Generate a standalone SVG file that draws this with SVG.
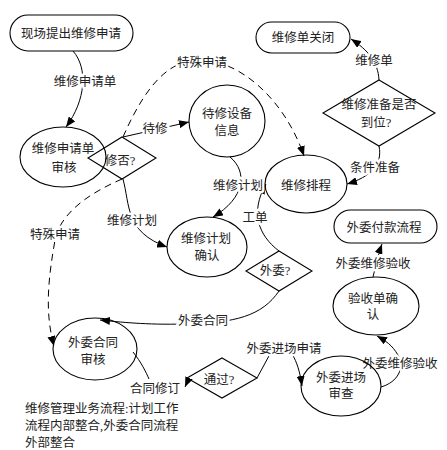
<svg xmlns="http://www.w3.org/2000/svg" width="447" height="450" viewBox="0 0 447 450">
<style>
.s{fill:none;stroke:#000;stroke-width:1.1}
.c{fill:none;stroke:#000;stroke-width:1}
.d{stroke-dasharray:7,5}
text{font-family:"Liberation Serif","Noto Sans CJK SC",serif;font-size:12.5px;fill:#222;text-anchor:middle}
.l{paint-order:stroke;stroke:#fff;stroke-width:5px;stroke-linejoin:round}
.t{text-anchor:start}
</style>
<defs>
<marker id="a" markerUnits="userSpaceOnUse" markerWidth="10" markerHeight="8" refX="10" refY="4" orient="auto" viewBox="0 0 10 8">
<path d="M0,0 L10,4 L0,8 z" fill="#000"/>
</marker>
</defs>
<rect width="447" height="450" fill="#fff"/>
<g id="connectors">
<path class="c" d="M73,51 C88,68 86,100 66,127" marker-end="url(#a)"/>
<path class="c" d="M123,137 L189,122" marker-end="url(#a)"/>
<path class="c d" d="M123,137 C150,75 175,60 200,60 C240,60 285,100 304,156" marker-end="url(#a)"/>
<path class="c" d="M123,179 C130,205 125,232 167,247" marker-end="url(#a)"/>
<path class="c d" d="M122,179 C85,195 60,215 55,240 C49,275 44,310 54,346" marker-end="url(#a)"/>
<path class="c" d="M230,157 C248,172 245,198 213,217" marker-end="url(#a)"/>
<path class="c" d="M279,251 C258,235 250,212 266,184" marker-end="url(#a)"/>
<path class="c" d="M279,291 C262,316 235,323 185,324 C145,325 120,322 100,320" marker-end="url(#a)"/>
<path class="c" d="M379,146 C383,165 370,177 347,184" marker-end="url(#a)"/>
<path class="c" d="M379,80 C378,62 368,50 351,39" marker-end="url(#a)"/>
<path class="c" d="M257,378 L270,354 M292,354 C297,362 300,372 302,386" marker-end="url(#a)"/>
<path class="c" d="M133,352 C141,362 146,372 149,379 M189,378 L185,387" marker-end="url(#a)"/>
<path class="c" d="M381,387 C398,382 405,368 398,355 C392,345 386,341 377,336" marker-end="url(#a)"/>
<path class="c" d="M373,277 C376,265 378,255 382,244" marker-end="url(#a)"/>
<text class="l" x="85" y="86">维修申请单</text>
<text class="l" x="155" y="133">待修</text>
<text class="l" x="202" y="67">特殊申请</text>
<text class="l" x="132" y="225">维修计划</text>
<text class="l" x="55" y="239">特殊申请</text>
<text class="l" x="238" y="190">维修计划</text>
<text class="l" x="255" y="222">工单</text>
<text class="l" x="203" y="325">外委合同</text>
<text class="l" x="375" y="172">条件准备</text>
<text class="l" x="374" y="65">维修单</text>
<text class="l" x="284" y="353">外委进场申请</text>
<text class="l" x="155" y="393">合同修订</text>
<text class="l" x="400" y="368">外委维修验收</text>
<text class="l" x="373" y="268">外委维修验收</text>
</g>
<g id="n1"><rect class="s" x="10" y="15" width="123" height="36" rx="18"/><text x="71" y="38">现场提出维修申请</text></g>
<g id="n2"><rect class="s" x="256" y="22" width="94" height="31" rx="15.5"/><text x="303" y="42">维修单关闭</text></g>
<g id="n3"><polygon class="s" points="379,80 435,113 379,146 323,113"/><text x="379" y="109">维修准备是否</text><text x="376" y="127">到位?</text></g>
<g id="n4"><ellipse class="s" cx="63" cy="157" rx="43" ry="30"/><text x="63" y="153">维修申请单</text><text x="64" y="172">审核</text></g>
<g id="n5"><polygon class="s" points="122,137 156,158 122,179 88,158"/><text x="120" y="165">修否?</text></g>
<g id="n6"><ellipse class="s" cx="227" cy="121" rx="38" ry="36"/><text x="227" y="118">待修设备</text><text x="227" y="135">信息</text></g>
<g id="n7"><ellipse class="s" cx="306" cy="184" rx="41" ry="29"/><text x="306" y="190">维修排程</text></g>
<g id="n8"><ellipse class="s" cx="207" cy="247" rx="40" ry="30"/><text x="206" y="243">维修计划</text><text x="207" y="260">确认</text></g>
<g id="n9"><polygon class="s" points="279,251 312,271 279,291 246,271"/><text x="275" y="275">外委?</text></g>
<g id="n10"><rect class="s" x="334" y="210" width="103" height="33" rx="16.5"/><text x="384" y="232">外委付款流程</text></g>
<g id="n11"><ellipse class="s" cx="376" cy="306" rx="43" ry="29"/><text x="373" y="303">验收单确</text><text x="373" y="319">认</text></g>
<g id="n12"><ellipse class="s" cx="341" cy="386" rx="40" ry="30"/><text x="341" y="382">外委进场</text><text x="341" y="398">审查</text></g>
<g id="n13"><ellipse class="s" cx="95" cy="349" rx="42" ry="31"/><text x="93" y="347">外委合同</text><text x="93" y="364">审核</text></g>
<g id="n14"><polygon class="s" points="222,358 257,378 222,398 187,378"/><text x="219" y="384">通过?</text></g>
<g id="note"><text class="t" x="25" y="413">维修管理业务流程:计划工作</text><text class="t" x="25" y="430">流程内部整合,外委合同流程</text><text class="t" x="25" y="447">外部整合</text></g>
</svg>
